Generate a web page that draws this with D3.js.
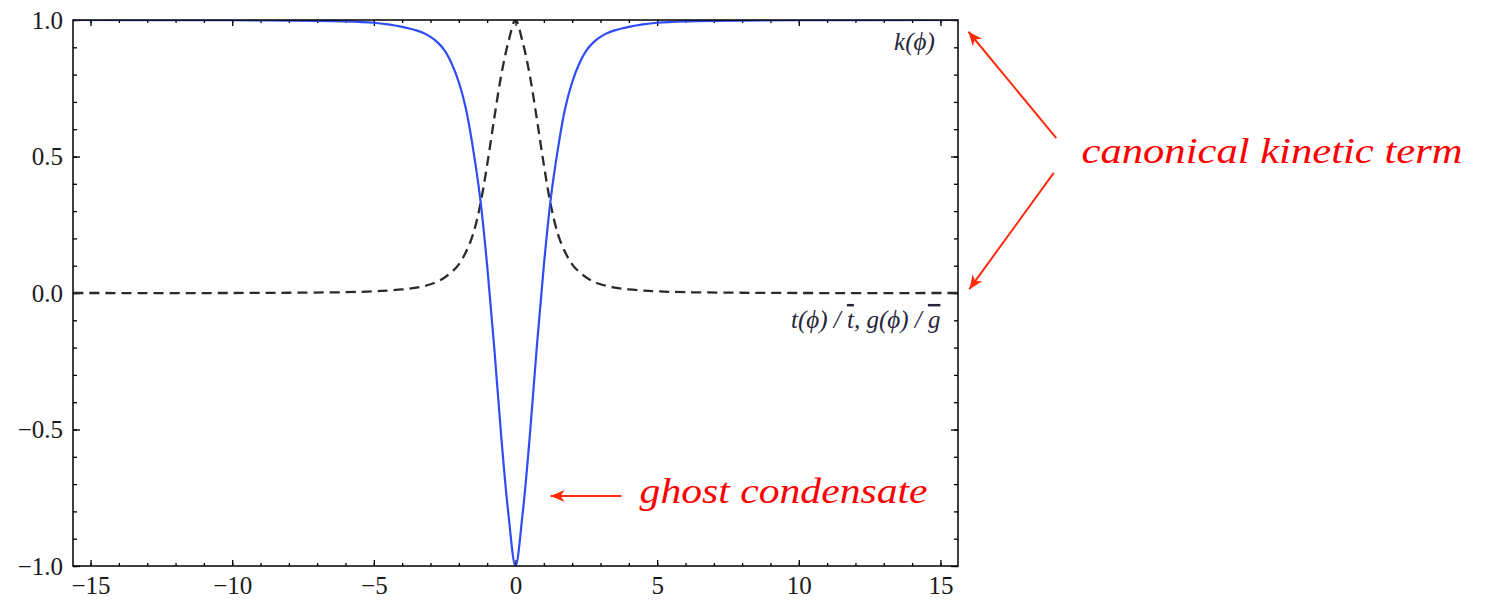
<!DOCTYPE html>
<html>
<head>
<meta charset="utf-8">
<script src="https://cdn.jsdelivr.net/npm/d3@7/dist/d3.min.js"></script>
<style>
  html, body { margin: 0; padding: 0; background: #fff; }
  #chart-area { width: 1488px; height: 600px; }
</style>
</head>
<body>
<div id="chart-area"></div>
<script>
// values (phi on x)
const phi = [-15.6, -10, -8, -6, -5, -4.5, -4, -3.75, -3.5, -3.25, -3, -2.75, -2.5, -2.25, -2, -1.75, -1.5, -1.25, -1, -0.75, -0.5, -0.25, 0,
             0.25, 0.5, 0.75, 1, 1.25, 1.5, 1.75, 2, 2.25, 2.5, 2.75, 3, 3.25, 3.5, 3.75, 4, 4.5, 5, 6, 8, 10, 15.6];
// k(phi), solid blue
const kValues = [1.0, 0.999, 0.998, 0.995, 0.99, 0.984, 0.975, 0.969, 0.962, 0.952, 0.938, 0.918, 0.888, 0.84, 0.772, 0.675, 0.53, 0.35, 0.10, -0.20, -0.53, -0.81, -1.0,
                 -0.81, -0.53, -0.20, 0.10, 0.35, 0.53, 0.675, 0.772, 0.84, 0.888, 0.918, 0.938, 0.952, 0.962, 0.969, 0.975, 0.984, 0.99, 0.995, 0.998, 0.999, 1.0];
// t(phi)/tbar, g(phi)/gbar, dashed black
const tValues = [0.0, 0.0, 0.001, 0.003, 0.006, 0.009, 0.013, 0.016, 0.02, 0.025, 0.032, 0.042, 0.057, 0.077, 0.105, 0.15, 0.215, 0.32, 0.47, 0.64, 0.80, 0.92, 1.0,
                 0.92, 0.80, 0.64, 0.47, 0.32, 0.215, 0.15, 0.105, 0.077, 0.057, 0.042, 0.032, 0.025, 0.02, 0.016, 0.013, 0.009, 0.006, 0.003, 0.001, 0.0, 0.0];

const xTicks = [-15, -10, -5, 0, 5, 10, 15];
const yTicks = [-1, -0.5, 0, 0.5, 1];

const config = {
    width: 1488,
    height: 600,
    margin: { left: 73, right: 530, top: 20, bottom: 34 }
};
config.chartWidth = config.width - config.margin.left - config.margin.right;
config.chartHeight = config.height - config.margin.top - config.margin.bottom;

const svg = d3.select('#chart-area')
    .append('svg')
    .attr('width', config.width)
    .attr('height', config.height)
    .style('background', '#fff');

const g = svg.append('g')
    .attr('transform', `translate(${config.margin.left}, ${config.margin.top})`);

const xScale = d3.scaleLinear()
    .domain([-15.62, 15.62])
    .range([0, config.chartWidth]);

const yScale = d3.scaleLinear()
    .domain([-1, 1])
    .range([config.chartHeight, 0]);

const xMinor = d3.range(-15, 16, 1);
const yMinor = d3.range(-10, 11).map(d => d / 10);

// frame ticks, all pointing inward
function styleAxis(sel) {
    sel.select('.domain').remove();
    sel.selectAll('.tick line').attr('stroke', '#000').attr('stroke-width', 1.3);
    sel.selectAll('text')
        .attr('font-family', '"Liberation Serif", "Times New Roman", serif')
        .attr('font-size', '25px')
        .attr('fill', '#1a1a1a');
}

g.append('g').attr('transform', `translate(0, ${config.chartHeight})`)
    .call(d3.axisBottom(xScale).tickValues(xMinor).tickSize(-3).tickFormat(''))
    .call(styleAxis);
g.append('g').attr('transform', `translate(0, ${config.chartHeight})`)
    .call(d3.axisBottom(xScale).tickValues(xTicks).tickSize(-6).tickPadding(10).tickFormat(d3.format('d')))
    .call(styleAxis);
g.append('g')
    .call(d3.axisTop(xScale).tickValues(xMinor).tickSize(-3).tickFormat(''))
    .call(styleAxis);
g.append('g')
    .call(d3.axisTop(xScale).tickValues(xTicks).tickSize(-6).tickFormat(''))
    .call(styleAxis);

g.append('g')
    .call(d3.axisLeft(yScale).tickValues(yMinor).tickSize(-4).tickFormat(''))
    .call(styleAxis);
g.append('g')
    .call(d3.axisLeft(yScale).tickValues(yTicks).tickSize(-7).tickPadding(10).tickFormat(d3.format('.1f')))
    .call(styleAxis);
g.append('g').attr('transform', `translate(${config.chartWidth}, 0)`)
    .call(d3.axisRight(yScale).tickValues(yMinor).tickSize(-4).tickFormat(''))
    .call(styleAxis);
g.append('g').attr('transform', `translate(${config.chartWidth}, 0)`)
    .call(d3.axisRight(yScale).tickValues(yTicks).tickSize(-7).tickFormat(''))
    .call(styleAxis);

svg.append('defs').append('clipPath').attr('id', 'plot-clip')
    .append('rect')
    .attr('width', config.chartWidth)
    .attr('height', config.chartHeight);

const points = phi.map((p, i) => ({ phi: p, k: kValues[i], t: tValues[i] }));

const plot = g.append('g').attr('clip-path', 'url(#plot-clip)');

const smooth = d3.curveCatmullRom.alpha(0.5);

plot.append('path')
    .datum(points)
    .attr('fill', 'none')
    .attr('stroke', '#2a2a2a')
    .attr('stroke-width', 2.3)
    .attr('stroke-dasharray', '10,6')
    .attr('d', d3.line().x(d => xScale(d.phi)).y(d => yScale(d.t)).curve(smooth));

plot.append('path')
    .datum(points)
    .attr('fill', 'none')
    .attr('stroke', '#2f4cf6')
    .attr('stroke-width', 2.2)
    .attr('d', d3.line().x(d => xScale(d.phi)).y(d => yScale(d.k)).curve(smooth));

// frame
g.append('rect')
    .attr('width', config.chartWidth)
    .attr('height', config.chartHeight)
    .attr('fill', 'none')
    .attr('stroke', '#000')
    .attr('stroke-width', 1.5);

// curve labels
const labelFont = '"Liberation Serif", "DejaVu Serif", serif';
g.append('text')
    .attr('x', xScale(14.8))
    .attr('y', yScale(0.89))
    .attr('text-anchor', 'end')
    .attr('font-family', labelFont)
    .attr('font-style', 'italic')
    .attr('font-size', '25px')
    .attr('fill', '#26263a')
    .text('k(\u03D5)');

const tLabel = g.append('text')
    .attr('x', xScale(15.0))
    .attr('y', yScale(-0.128))
    .attr('text-anchor', 'end')
    .attr('font-family', labelFont)
    .attr('font-style', 'italic')
    .attr('font-size', '25px')
    .attr('fill', '#26263a');
tLabel.append('tspan').text('t(\u03D5) / ');
tLabel.append('tspan').style('text-decoration', 'overline').text('t');
tLabel.append('tspan').text(', g(\u03D5) / ');
tLabel.append('tspan').style('text-decoration', 'overline').text('g');

// red annotations
const red = '#ff2a0a';
svg.append('defs').append('marker')
    .attr('id', 'arrow')
    .attr('viewBox', '-14 -7 16 14')
    .attr('refX', 0)
    .attr('refY', 0)
    .attr('markerWidth', 16)
    .attr('markerHeight', 14)
    .attr('markerUnits', 'userSpaceOnUse')
    .attr('orient', 'auto')
    .append('path')
    .attr('d', 'M0,0 L-14,-6 L-10,0 L-14,6 Z')
    .attr('fill', red);

const arrows = [
    { from: [19.09, 0.567], to: [15.99, 0.957] },
    { from: [19.0, 0.44], to: [16.02, 0.014] },
    { from: [3.74, -0.744], to: [1.24, -0.744] }
];
g.selectAll('.arrow')
    .data(arrows)
    .enter().append('line')
    .attr('class', 'arrow')
    .attr('x1', d => xScale(d.from[0]))
    .attr('y1', d => yScale(d.from[1]))
    .attr('x2', d => xScale(d.to[0]))
    .attr('y2', d => yScale(d.to[1]))
    .attr('stroke', red)
    .attr('stroke-width', 2)
    .attr('marker-end', 'url(#arrow)');

g.append('text')
    .attr('x', xScale(19.98))
    .attr('y', yScale(0.476))
    .attr('font-family', labelFont)
    .attr('font-style', 'italic')
    .attr('font-size', '35px')
    .attr('fill', '#ff0000')
    .attr('textLength', 381)
    .attr('lengthAdjust', 'spacingAndGlyphs')
    .text('canonical kinetic term');

g.append('text')
    .attr('x', xScale(4.38))
    .attr('y', yScale(-0.769))
    .attr('font-family', labelFont)
    .attr('font-style', 'italic')
    .attr('font-size', '35px')
    .attr('fill', '#ff0000')
    .attr('textLength', 288)
    .attr('lengthAdjust', 'spacingAndGlyphs')
    .text('ghost condensate');
</script>
</body>
</html>
